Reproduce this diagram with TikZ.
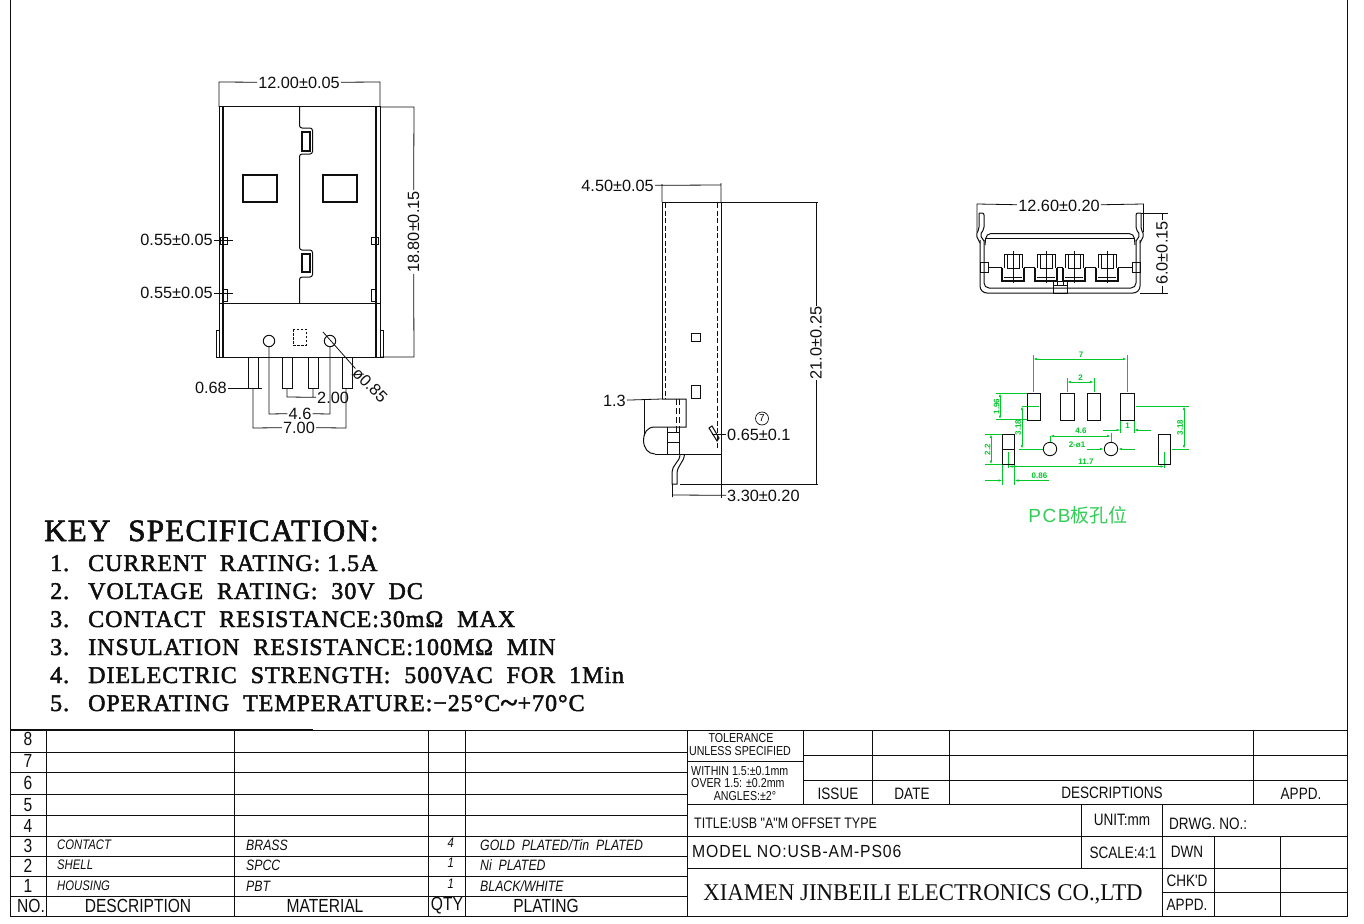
\documentclass[tikz,border=0pt]{standalone}
\usepackage{fontspec}
\setmainfont{Liberation Sans}
\newfontfamily\cadfont[FakeStretch=0.82]{Liberation Sans}
\newfontfamily\modelfont[FakeStretch=0.9,LetterSpace=5]{Liberation Sans}
\newfontfamily\specfont[LetterSpace=4,FakeBold=2]{Liberation Serif}
\newfontfamily\firmfont[FakeStretch=0.95]{Liberation Serif}
\newfontfamily\cjkfont{Noto Sans CJK SC}
\usetikzlibrary{arrows.meta}
\definecolor{PadGreen}{RGB}{0, 200, 40}
\definecolor{LabelGreen}{RGB}{50, 205, 85}
\definecolor{CadBlack}{RGB}{15, 15, 15}
\tikzset{
	part/.style={draw=CadBlack, line width=1pt},
	thickpart/.style={draw=CadBlack, line width=1.5pt},
	hidden/.style={draw=CadBlack, line width=0.8pt, dash pattern=on 5pt off 2.5pt},
	dimline/.style={draw=CadBlack, line width=0.8pt},
	tableline/.style={draw=CadBlack, line width=0.8pt},
	dimtext/.style={font=\fontsize{16.3}{17}\selectfont, text=CadBlack, inner sep=1pt},
	greenline/.style={draw=PadGreen, line width=0.9pt},
	greenarrow/.style={greenline, -{Latex[length=4pt,width=2.5pt]}},
	greenboth/.style={greenline, {Latex[length=4pt,width=2.5pt]}-{Latex[length=4pt,width=2.5pt]}},
	greentext/.style={font=\fontsize{8}{9}\selectfont\bfseries, text=PadGreen, inner sep=0.5pt},
	pad/.style={draw=CadBlack, line width=0.9pt},
	specline/.style={font=\specfont\fontsize{24}{25}\selectfont, text=CadBlack, anchor=base west, inner sep=0pt},
	rowtext/.style={font=\cadfont\fontsize{19}{20}\selectfont, text=CadBlack, inner sep=0pt},
	itemtext/.style={font=\cadfont\itshape\fontsize{13.8}{14}\selectfont, text=CadBlack, anchor=west, inner sep=0pt},
	platetext/.style={itemtext, font=\cadfont\itshape\fontsize{15}{16}\selectfont},
	blocktext/.style={font=\cadfont\fontsize{16.5}{17}\selectfont, text=CadBlack, inner sep=0pt},
	smalltext/.style={font=\cadfont\fontsize{13}{14}\selectfont, text=CadBlack, inner sep=0pt},
}

\begin{document}
\begin{tikzpicture}[x=1pt, y=-1pt]
	\useasboundingbox (0,0) rectangle (1364,923);
	\fill[white] (0,0) rectangle (1364,923);

	% Frame of the sheet
	\draw[tableline] (10,0) -- (10,916) -- (1347,916) -- (1347,0);
	\draw[thickpart, line width=1.2pt] (10,730) -- (313,730);

	% Top view: shell
	\draw[part] (219,107) rectangle (380,357);
	\draw[thickpart] (223,107) -- (223,357);
	\draw[thickpart] (376,107) -- (376,357);
	\draw[part] (219,303) -- (380,303);
	\draw[part] (216,330) rectangle (219,357);
	\draw[part] (380,330) rectangle (383,357);
	% Top view: seam with the two tabs
	\draw[part, rounded corners=2.5pt] (299.5,107) -- (299.5,128) -- (312.5,128) -- (312.5,154) -- (299.5,154) -- (299.5,250) -- (312.5,250) -- (312.5,277) -- (299.5,277) -- (299.5,303);
	\draw[thickpart] (302,132) rectangle (310,151);
	\draw[thickpart] (302,254) rectangle (310,272);
	% Top view: windows and small tabs
	\draw[thickpart, line width=1.1pt] (243,175) rectangle (277,202);
	\draw[thickpart, line width=1.1pt] (323,175) rectangle (357,202);
	\draw[part] (220,237) rectangle (227,244);
	\draw[part] (223,289) rectangle (227,301);
	\draw[part] (371,237) rectangle (378,244);
	\draw[part] (371,289) rectangle (376,301);
	% Top view: holes, marker, pins
	\draw[part] (269,341) circle (5.7);
	\draw[part] (330,341) circle (5.7);
	\draw[hidden, dash pattern=on 2.5pt off 1.5pt] (293,329) rectangle (306,345);
	\foreach \px in {248,282,308,342}
		\draw[part] (\px,357) rectangle (\px+10,388);

	% Top view: dimensions
	\node[dimtext] (widthdim) at (299,82.5) {12.00±0.05};
	\draw[dimline] (219,107) -- (219,82) -- (widthdim);
	\draw[dimline] (380,107) -- (380,82) -- (widthdim);
	\node[dimtext, rotate=90] (lengthdim) at (413.5,232) {18.80±0.15};
	\draw[dimline] (380,107) -- (414,107) -- (lengthdim);
	\draw[dimline] (380,357) -- (414,357) -- (lengthdim);
	\node[dimtext, anchor=east] (tabdimA) at (214,240) {0.55±0.05};
	\draw[dimline] (tabdimA) -- (233,240);
	\node[dimtext, anchor=east] (tabdimB) at (214,293) {0.55±0.05};
	\draw[dimline] (tabdimB) -- (233,293);
	\node[dimtext, anchor=east] (pindim) at (228,388) {0.68};
	\draw[dimline] (pindim) -- (262,388);
	\node[dimtext, anchor=west] (pitchdim) at (316,397.5) {2.00};
	\draw[dimline] (287,388) -- (287,397) -- (pitchdim) (313,388) -- (313,397);
	\node[dimtext] (holedim) at (300,413.5) {4.6};
	\draw[dimline] (269,346) -- (269,414) -- (holedim);
	\draw[dimline] (330,346) -- (330,414) -- (holedim);
	\node[dimtext] (spandim) at (299,427.5) {7.00};
	\draw[dimline] (253,388) -- (253,428) -- (spandim);
	\draw[dimline] (346,388) -- (346,428) -- (spandim);
	\node[dimtext, rotate=-45] (diadim) at (370,385) {ø0.85};
	\draw[dimline] (323,332) -- (diadim);

	% Side view: shell
	\draw[part] (662,399) -- (662,202) -- (721,202) -- (721,454) -- (655,454);
	\draw[hidden] (665,203) -- (665,399);
	\draw[hidden] (717.5,203) -- (717.5,450);
	\draw[part] (691,333) rectangle (700,341);
	\draw[part] (691,385) rectangle (700,398);
	% Side view: housing
	\draw[part] (662,399) -- (686,399) -- (686,427) -- (655,427) .. controls (647,427) and (643.5,433) .. (643.5,440) .. controls (643.5,448) and (648,454) .. (655,454);
	\draw[part] (644,399) -- (644,436);
	\draw[part] (667,427) -- (667,454);
	\draw[part] (667,432) -- (679,432) -- (679,442) -- (667,442);
	\draw[part] (679,442) -- (679,454);
	\draw[hidden, dash pattern=on 6pt off 3pt] (676,399) -- (676,432);
	\draw[hidden, dash pattern=on 6pt off 3pt] (679,399) -- (679,432);
	% Side view: pin
	\draw[part] (680,454) .. controls (680,463) and (672,463) .. (672,474) -- (672,484) -- (677,484) -- (677,474) .. controls (677,465) and (684,463) .. (684.5,454);
	\draw[part] (709,428) -- (712,426) -- (719,438) -- (717,441) -- cycle;

	% Side view: dimensions
	\node[dimtext, anchor=east] (depthdim) at (655,185.5) {4.50±0.05};
	\draw[dimline] (depthdim) -- (721,185) (662,202) -- (662,184) (721,202) -- (721,183);
	\node[dimtext, rotate=90] (heightdim) at (816,343) {21.0±0.25};
	\draw[dimline] (721,202) -- (818,202) (816,202) -- (heightdim);
	\draw[dimline] (680,484) -- (818,484) (816,484) -- (heightdim);
	\node[dimtext, anchor=east] (housedim) at (627,400.5) {1.3};
	\draw[dimline] (housedim) -- (662,399);
	\node[dimtext, anchor=west] (offsetdim) at (726,495.5) {3.30±0.20};
	\draw[dimline] (672.5,484) -- (672.5,497) (672.5,495) -- (offsetdim);
	\draw[dimline] (721,454) -- (721,498);
	\node[dimtext, anchor=west] (hookdim) at (726,434.5) {0.65±0.1};
	\draw[dimline] (712,434.5) -- (hookdim);
	\node[draw=CadBlack, circle, line width=0.7pt, inner sep=0pt, minimum size=13pt, font=\fontsize{10}{10}\selectfont] (balloon) at (762,418.5) {7};

	% End view: shell and ears
	\draw[part, rounded corners=7pt] (980,240) -- (980,293) -- (1140,293) -- (1140,240);
	\draw[part, rounded corners=5pt] (984,240) -- (984,288) -- (1136,288) -- (1136,240);
	\draw[part, rounded corners=5pt] (985,245) -- (986,233.5) -- (1134,233.5) -- (1135,245);
	\draw[part] (986,238) -- (1134,238);
	\draw[part, rounded corners=2pt] (979,213) -- (979,229) -- (976,235) -- (980,243);
	\draw[part, rounded corners=2pt] (979,213) -- (984,213) -- (984,229) -- (980,235) -- (984,241);
	\draw[part, rounded corners=2pt] (1141,213) -- (1141,229) -- (1144,235) -- (1140,243);
	\draw[part, rounded corners=2pt] (1141,213) -- (1136,213) -- (1136,229) -- (1140,235) -- (1136,241);
	\draw[part] (980,262) rectangle (988,272);
	\draw[part] (1132,262) rectangle (1140,272);
	\draw[part] (1053,281) rectangle (1067,293);
	\draw[part] (1057,285) -- (1057,281) (1063,285) -- (1063,281) (1053,285) -- (1067,285);
	% End view: contacts
	\foreach \cx in {1002,1035,1063,1096} {
		\draw[part] (\cx+2,268) -- (\cx+2,254) -- (\cx+20,254) -- (\cx+20,268);
		\draw[part] (\cx+5,254) -- (\cx+5,268) -- (\cx+17,268) -- (\cx+17,254);
		\draw[thickpart, line width=1.1pt] (\cx,268) -- (\cx,281) -- (\cx+22,281) -- (\cx+22,268);
		\draw[dimline] (\cx+11,251) -- (\cx+11,283);
		\draw[dimline] (\cx+2,277) -- (\cx+20,277);
	}
	\draw[dimline] (988,267.5) -- (1002,267.5) (1024,267.5) -- (1035,267.5) (1057,267.5) -- (1063,267.5) (1085,267.5) -- (1096,267.5) (1118,267.5) -- (1132,267.5);

	% End view: dimensions
	\node[dimtext] (enddim) at (1059,205.5) {12.60±0.20};
	\draw[dimline] (977,232) -- (977,204) -- (enddim);
	\draw[dimline] (1143.5,232) -- (1143.5,204) -- (enddim);
	\node[dimtext, rotate=90] (thickdim) at (1162,253) {6.0±0.15};
	\draw[dimline] (1141,213) -- (1168,213) (1162,213) -- (thickdim);
	\draw[dimline] (1140,293) -- (1168,293) (1162,293) -- (thickdim);

	% PCB layout: green dimensions
	\draw[greenline] (1033,392) -- (1033,355) (1127,392) -- (1127,355);
	\draw[greenboth] (1033,359) -- (1127,359);
	\node[greentext] (spanpcb) at (1081,355) {7};
	\draw[greenline] (1067,392) -- (1067,378) (1094,392) -- (1094,378);
	\draw[greenboth] (1067,382) -- (1094,382);
	\node[greentext] (pitchpcb) at (1080.5,378) {2};
	\draw[greenline] (996,393) -- (1027,393) (996,419.5) -- (1027,419.5);
	\draw[greenboth] (1000,393) -- (1000,419.5);
	\node[greentext, rotate=90] (padpcb) at (996.5,406.5) {1.96};
	\draw[greenline] (1022,406) -- (1039,406) (1019,449) -- (1043,449);
	\draw[greenboth] (1022,406) -- (1022,449);
	\node[greentext, rotate=90] (rowleftpcb) at (1018,427.5) {3.18};
	\draw[greenline] (1136,406) -- (1189,406) (1172,449) -- (1189,449);
	\draw[greenboth] (1184,406) -- (1184,449);
	\node[greentext, rotate=90] (rowrightpcb) at (1180,427.5) {3.18};
	\draw[greenline] (1120.5,420) -- (1120.5,433) (1134,420) -- (1134,433);
	\draw[greenarrow] (1103,430) -- (1120.5,430);
	\draw[greenarrow] (1151,430) -- (1134,430);
	\node[greentext] (widthpcb) at (1127.5,425.5) {1};
	\draw[greenline] (1050,436) -- (1050,442) (1111,433) -- (1111,442);
	\draw[greenboth] (1050,436) -- (1111,436);
	\node[greentext] (holepcb) at (1081,431) {4.6};
	\node[greentext] (diapcb) at (1077,444.5) {2-ø1};
	\draw[greenarrow] (1087,449) -- (1104,449);
	\draw[greenarrow] (1135,449) -- (1118,449);
	\draw[greenline] (985,434) -- (1002,434) (985,464.5) -- (1002,464.5);
	\draw[greenboth] (991,434) -- (991,464.5);
	\node[greentext, rotate=90] (sidepcb) at (987.5,449.5) {2.2};
	\draw[greenline] (1008.5,452) -- (1008.5,468) (1164.5,452) -- (1164.5,468);
	\draw[greenboth] (1008.5,466.5) -- (1164.5,466.5);
	\node[greentext] (outerpcb) at (1086,461.5) {11.7};
	\draw[greenline] (1002.5,464) -- (1002.5,485) (1014.5,464) -- (1014.5,485);
	\draw[greenarrow] (985,480.5) -- (1002.5,480.5);
	\draw[greenarrow] (1049,480.5) -- (1014.5,480.5);
	\node[greentext] (sidewidthpcb) at (1039.5,476) {0.86};
	% PCB layout: pads and holes
	\foreach \px in {1027,1060.5,1087,1120.5}
		\draw[pad] (\px,393) rectangle (\px+13.5,420);
	\draw[pad] (1002.5,434) rectangle (1014.5,464.5);
	\draw[pad] (1002.5,449) -- (1014.5,449);
	\draw[pad] (1158.5,434) rectangle (1170.5,464.5);
	\draw[pad] (1050,449) circle (6.7);
	\draw[pad] (1111,449) circle (6.7);
	\node[font=\fontsize{19}{20}\selectfont, text=LabelGreen, inner sep=0pt] (pcblabel) at (1078,515) {\addfontfeature{LetterSpace=8}PCB{\cjkfont 板孔位}};

	% Key specification
	\node[specline, font=\specfont\fontsize{31}{32}\selectfont] (spectitle) at (44,541) {KEY\ \ SPECIFICATION:};
	\foreach \n/\txt [count=\i] in {1./CURRENT\ \ RATING:\ 1.5A, 2./VOLTAGE\ \ RATING:\ \ 30V\ \ DC, 3./CONTACT\ \ RESISTANCE:30mΩ\ \ MAX, 3./INSULATION\ \ RESISTANCE:100MΩ\ \ MIN, 4./DIELECTRIC\ \ STRENGTH:\ \ 500VAC\ \ FOR\ \ 1Min, 5./OPERATING\ \ TEMPERATURE:−25°C\raisebox{-0.2ex}{\fontsize{32}{32}\selectfont\char`~}+70°C} {
		\node[specline] (specnum\i) at (50,{571+28*(\i-1)}) {\n};
		\node[specline] (spectext\i) at (88,{571+28*(\i-1)}) {\txt};
	}

	% Parts table: grid
	\foreach \y in {752,772,794,815,836,856,876,896}
		\draw[tableline] (10,\y) -- (687,\y);
	\draw[tableline] (10,730) -- (1347,730);
	\foreach \x in {46,234,428,465,687}
		\draw[tableline] (\x,730) -- (\x,916);
	% Parts table: row numbers
	\foreach \n/\y in {8/739,7/761,6/783,5/805,4/826,3/846,2/866,1/886}
		\node[rowtext] (row\n) at (28,\y) {\n};
	\node[rowtext] (headno) at (31,906) {NO.};
	\node[rowtext] (headdesc) at (138,906) {DESCRIPTION};
	\node[rowtext] (headmat) at (325,906) {MATERIAL};
	\node[rowtext] (headqty) at (447,906) {QTY};
	\node[rowtext] (headplate) at (546,906) {PLATING};
	% Parts table: entries
	\node[itemtext] (desc3) at (57,845) {CONTACT};
	\node[itemtext] (desc2) at (57,865) {SHELL};
	\node[itemtext] (desc1) at (57,886) {HOUSING};
	\node[platetext] (mat3) at (246,845) {BRASS};
	\node[platetext] (mat2) at (246,865) {SPCC};
	\node[platetext] (mat1) at (246,886) {PBT};
	\node[itemtext] (qty3) at (447.5,843) {4};
	\node[itemtext] (qty2) at (447.5,863) {1};
	\node[itemtext] (qty1) at (447.5,884) {1};
	\node[platetext] (plate3) at (480,845) {GOLD\ \ PLATED/Tin\ \ PLATED};
	\node[platetext] (plate2) at (480,865) {Ni\ \ PLATED};
	\node[platetext] (plate1) at (480,886) {BLACK/WHITE};

	% Title block: grid
	\draw[tableline] (803,755) -- (1347,755);
	\draw[tableline] (803,780) -- (1347,780);
	\draw[tableline] (687,761) -- (803,761);
	\draw[tableline] (687,804) -- (1347,804);
	\draw[tableline] (687,836) -- (1347,836);
	\draw[tableline] (687,868) -- (1347,868);
	\draw[tableline] (1162,892) -- (1347,892);
	\foreach \x in {803,872,949,1253}
		\draw[tableline] (\x,730) -- (\x,804);
	\draw[tableline] (1081,804) -- (1081,868);
	\draw[tableline] (1162,804) -- (1162,916);
	\draw[tableline] (1214,836) -- (1214,916);
	\draw[tableline] (1280,836) -- (1280,916);
	% Title block: texts
	\node[smalltext] (tolhead) at (741,738.5) {TOLERANCE};
	\node[smalltext] (tolsub) at (740,751) {UNLESS SPECIFIED};
	\node[smalltext, anchor=west] (tolone) at (691,771.5) {WITHIN 1.5:±0.1mm};
	\node[smalltext, anchor=west] (toltwo) at (691,783.5) {OVER 1.5: ±0.2mm};
	\node[smalltext] (tolang) at (745,796) {ANGLES:±2°};
	\node[blocktext] (issue) at (838,794) {ISSUE};
	\node[blocktext] (date) at (912,793.5) {DATE};
	\node[blocktext] (descr) at (1112,792.5) {DESCRIPTIONS};
	\node[blocktext] (appdtop) at (1301,793.5) {APPD.};
	\node[blocktext, anchor=west, font=\cadfont\fontsize{15.2}{16}\selectfont] (title) at (694,823.5) {TITLE:USB "A"M OFFSET TYPE};
	\node[blocktext] (unit) at (1122,820) {UNIT:mm};
	\node[blocktext, anchor=west] (drwg) at (1169,824) {DRWG. NO.:};
	\node[blocktext, anchor=west, font=\modelfont\fontsize{17.5}{18}\selectfont] (model) at (692,851.5) {MODEL NO:USB-AM-PS06};
	\node[blocktext] (scale) at (1123,853) {SCALE:4:1};
	\node[blocktext] (dwn) at (1187,852) {DWN};
	\node[blocktext] (chkd) at (1187,881) {CHK'D};
	\node[blocktext] (appdlow) at (1187,905) {APPD.};
	\node[font=\firmfont\fontsize{24}{25}\selectfont, text=CadBlack, inner sep=0pt] (firm) at (923,894.5) {XIAMEN JINBEILI ELECTRONICS CO.,LTD};
\end{tikzpicture}
\end{document}
